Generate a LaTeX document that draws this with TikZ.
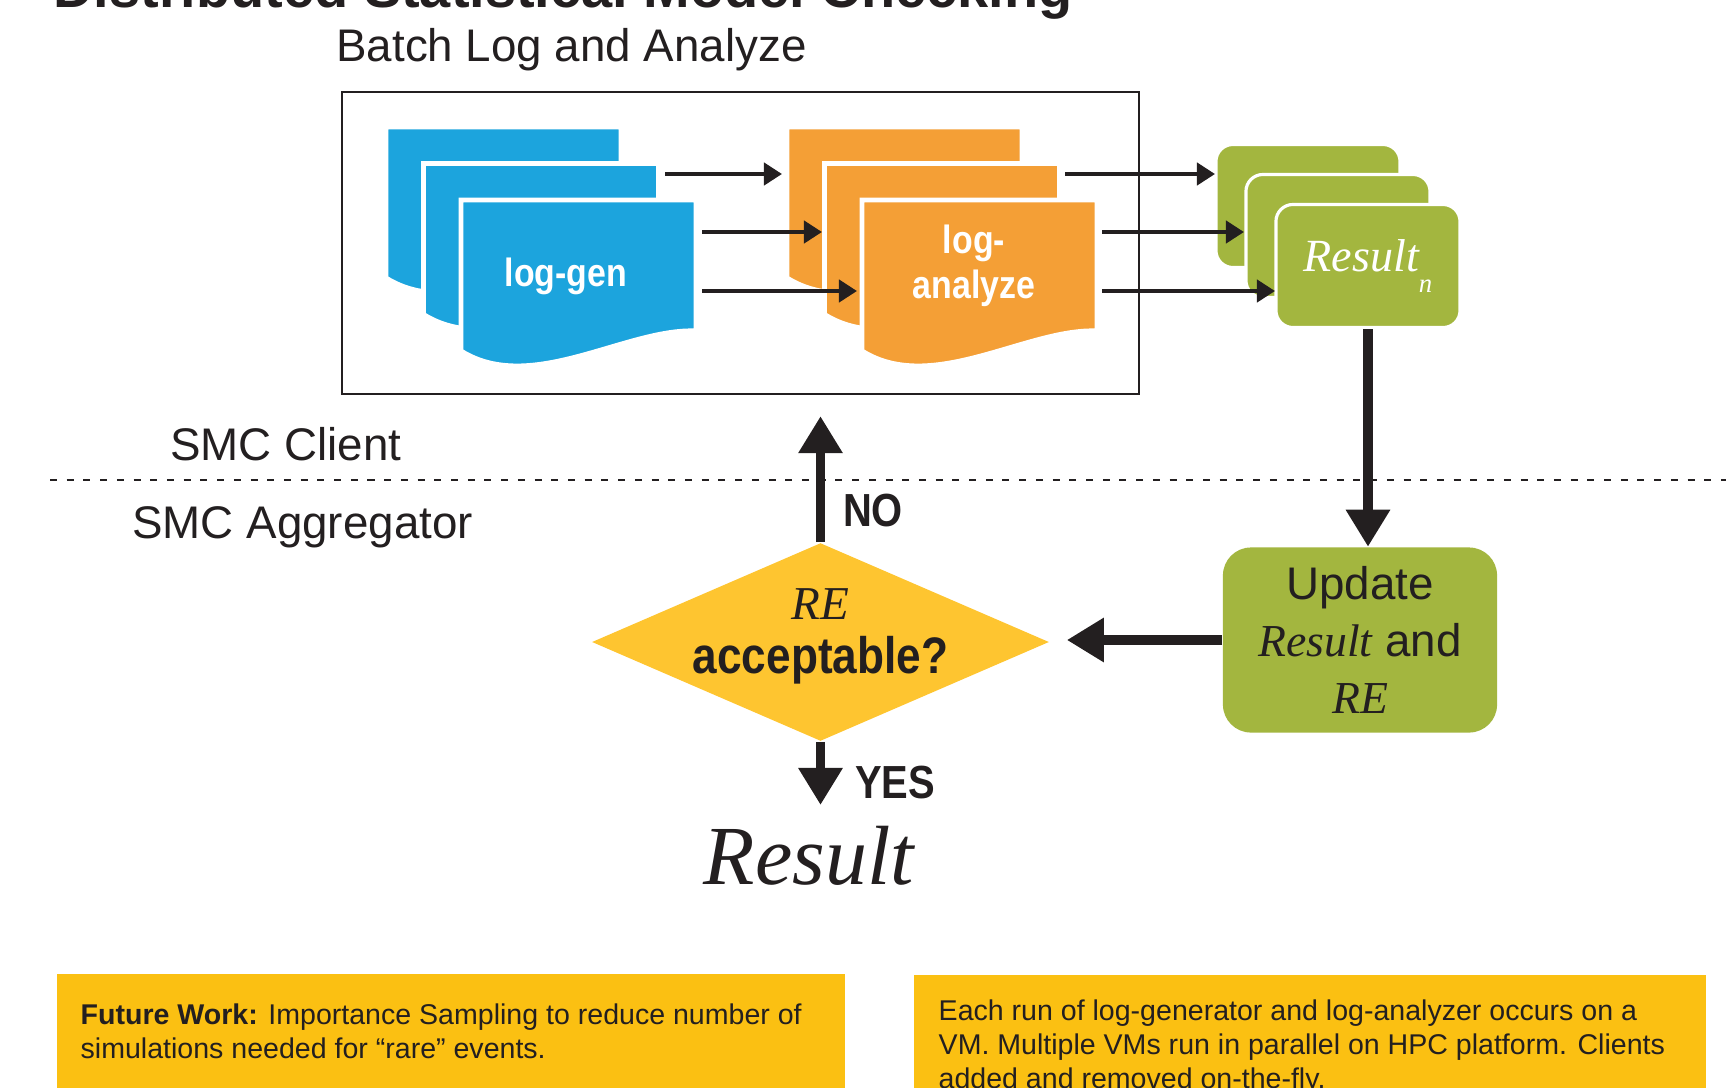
\documentclass[tikz,border=0pt]{standalone}
\usepackage{fontspec}
\setmainfont{Liberation Sans}
\newfontfamily\varfont{Liberation Serif}
\newfontfamily\condfont{Liberation Sans}[FakeStretch=0.86]
\usetikzlibrary{arrows.meta,shapes.geometric}

\definecolor{ink}{HTML}{231F20}
\definecolor{genblue}{HTML}{1CA4DD}
\definecolor{anaorange}{HTML}{F49F36}
\definecolor{resgreen}{HTML}{A3B63F}
\definecolor{decyellow}{HTML}{FEC530}
\definecolor{noteyellow}{HTML}{FBC012}

% italic serif for the quantities
\newcommand{\smcvar}[1]{{\varfont\itshape #1}}

\tikzset{
  labelfont/.style={font=\fontsize{13}{15.6}\selectfont},
  pagetext/.style={text=white, font=\condfont\fontsize{11.2}{12.8}\selectfont\bfseries},
  boldlabel/.style={font=\condfont\fontsize{13.2}{14}\selectfont\bfseries},
  note/.style={fill=noteyellow, anchor=north west, minimum height=1.3cm, inner sep=0pt},
  notetext/.style={anchor=north west, inner sep=0pt, align=left, font=\fontsize{8.12}{9.7}\selectfont}
}

\begin{document}
\begin{tikzpicture}[x=0.01cm, y=-0.01cm, color=ink,
    logpage/.style={draw=white, line width=1.4pt},
    respage/.style={fill=resgreen, draw=white, line width=0.9pt, rounded corners=0.17cm,
      minimum width=1.84cm, minimum height=1.23cm, inner sep=0pt},
    decision/.style={diamond, fill=decyellow, minimum width=4.57cm, minimum height=1.98cm, inner sep=0pt},
    update/.style={fill=resgreen, rounded corners=0.28cm, minimum width=2.74cm, minimum height=1.85cm,
      inner sep=0pt, align=center, font=\fontsize{13}{16.2}\selectfont},
    flow/.style={line width=1.2pt, -{Triangle[length=1.8mm,width=2.2mm]}},
    bigflow/.style={line width=2.8pt, -{Triangle[length=3.7mm,width=4.2mm]}}]
  \useasboundingbox (0,0) rectangle (1726,1087);

  \node[anchor=base west, font=\fontsize{15.9}{19}\selectfont\bfseries] (title) at (41,7)
    {Distributed Statistical Model Checking};
  \node[anchor=base west, labelfont] (batchlabel) at (324,61) {Batch Log and Analyze};
  \node[draw, line width=0.6pt, minimum width=7.97cm, minimum height=3.02cm, inner sep=0pt] (batch)
    at (740.5,243) {};

  % stacked log pages
  \foreach \i in {0,1,2} {
    \filldraw[logpage, fill=genblue, shift={(386+37.5*\i,127+36.5*\i)}]
      (0,0) -- (235,0) -- (235,131) .. controls (165,128) and (70,195) .. (0,151) -- cycle;
    \filldraw[logpage, fill=anaorange, shift={(787+37.5*\i,127+36.5*\i)}]
      (0,0) -- (235,0) -- (235,131) .. controls (165,128) and (70,195) .. (0,151) -- cycle;
  }
  \node[pagetext] (gen) at (566,276) {log-gen};
  \node[pagetext, align=center] (ana) at (974,266) {log-\\analyze};

  \node[respage] (res1) at (1308,206) {};
  \node[respage] (res2) at (1338,236) {};
  \node[respage, text=white, font=\fontsize{13.1}{15}\selectfont] (res3) at (1368,266)
    {\smcvar{Result}\raisebox{-0.45em}{\fontsize{7.6}{8}\selectfont\smcvar{n}}};

  \coordinate (genout1) at (665,174);
  \coordinate (genout2) at (702,232);
  \coordinate (genout3) at (702,291);
  \coordinate (anain1) at (782,174);
  \coordinate (anain2) at (822,232);
  \coordinate (anain3) at (857,291);
  \coordinate (anaout1) at (1065,174);
  \coordinate (anaout2) at (1102,232);
  \coordinate (anaout3) at (1102,291);
  \coordinate (resin1) at (1215,174);
  \coordinate (resin2) at (1244,232);
  \coordinate (resin3) at (1275,291);
  \begin{scope}[flow]
    \draw (genout1) -- (anain1);
    \draw (genout2) -- (anain2);
    \draw (genout3) -- (anain3);
    \draw (anaout1) -- (resin1);
    \draw (anaout2) -- (resin2);
    \draw (anaout3) -- (resin3);
  \end{scope}

  % client / aggregator split
  \coordinate (split-w) at (50,480);
  \coordinate (split-e) at (1726,480);
  \draw[line width=0.7pt, dash pattern=on 0.07cm off 0.097cm] (split-w) -- (split-e);
  \node[anchor=base west, labelfont] (client) at (158,460) {SMC Client};
  \node[anchor=base west, labelfont] (aggregator) at (120,538) {SMC Aggregator};

  \node[decision] (ok) at (820.5,642) {};
  \node[align=center, inner sep=0pt, font=\fontsize{13}{15.4}\selectfont] (oktext) at (820.5,636)
    {{\fontsize{13.4}{15.4}\selectfont\smcvar{RE}}\\{\condfont\fontsize{14.6}{15.4}\selectfont\bfseries acceptable?}};
  \node[boldlabel] (no) at (873,511) {NO};
  \node[boldlabel] (yes) at (895,783) {YES};
  \node[anchor=base, inner sep=0pt, font=\fontsize{23.9}{28}\selectfont] (result) at (809,884)
    {\smcvar{Result}};
  \node[update] (update) at (1360,640) {Update\\\smcvar{Result} and\\\smcvar{RE}};

  \draw[bigflow] (res3.south) -- (res3.south |- update.north);
  \draw[bigflow, shorten >=0.17cm] (update.west) -- (update.west -| ok.east);
  \draw[bigflow, shorten >=0.21cm] (ok.north) -- (ok.north |- batch.south);
  \draw[bigflow, shorten >=0.2cm] (ok.south) -- (ok.south |- result.north);

  % notes along the bottom
  \node[note, minimum width=7.88cm] (futurebox) at (56,973) {};
  \node[note, minimum width=7.92cm] (vmbox) at (913,974) {};
  \node[notetext] (futuretext) at (80,1003)
    {\textbf{Future Work:} Importance Sampling to reduce number of\\simulations needed for “rare” events.};
  \node[notetext] (vmtext) at (938,999)
    {Each run of log-generator and log-analyzer occurs on a\\VM. Multiple VMs run in parallel on HPC platform. Clients\\added and removed on-the-fly.};
\end{tikzpicture}
\end{document}
